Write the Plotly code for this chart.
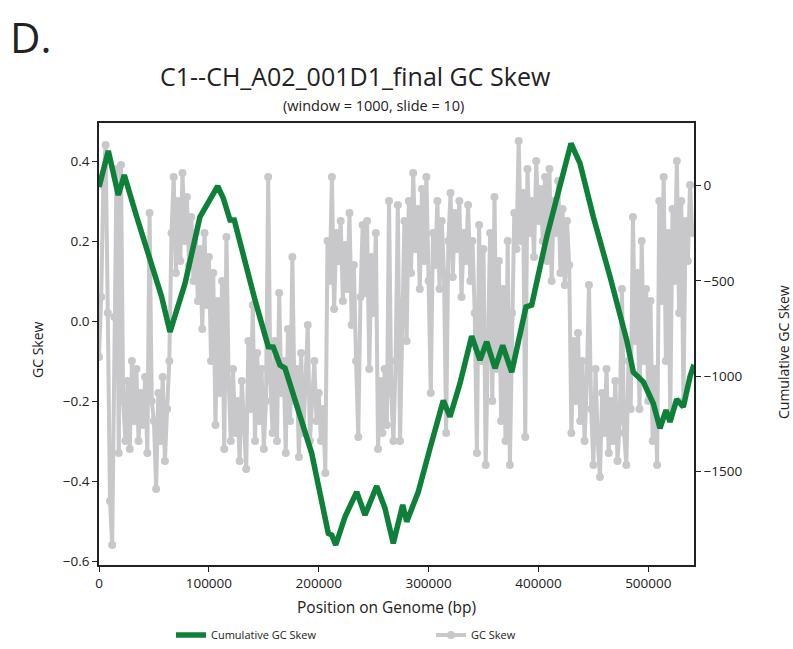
import plotly.graph_objects as go

# ---- data ----
genome_length = 541600
gc_step = 2000
gc_skew = [
    -0.09, 0.06, 0.35, 0.44, 0.02, -0.45, -0.56, 0.01, 0.38, -0.33,
    0.39, -0.20, -0.30, -0.15, -0.32, -0.10, -0.25, -0.12, -0.30, -0.18,
    -0.26, -0.14, -0.33, 0.27, -0.20, -0.25, -0.42, -0.18, -0.30, -0.14,
    -0.35, -0.22, -0.10, 0.22, 0.36, 0.12, 0.30, 0.15, 0.37, 0.20,
    0.31, 0.14, 0.26, 0.10, 0.22, 0.05, 0.18, -0.02, 0.22, 0.04,
    0.16, -0.10, 0.12, -0.26, 0.05, -0.18, 0.10, -0.32, 0.21, -0.15,
    -0.30, -0.12, -0.28, -0.20, -0.35, -0.15, -0.25, -0.37, -0.05, -0.22,
    0.04, -0.30, -0.08, -0.25, -0.12, -0.32, -0.20, 0.36, -0.15, -0.28,
    -0.05, -0.30, 0.07, -0.18, -0.10, -0.33, -0.02, -0.25, 0.16, -0.20,
    -0.12, -0.34, -0.08, -0.28, -0.15, -0.01, -0.30, -0.20, -0.10, -0.25,
    -0.18, -0.30, -0.22, -0.38, 0.20, 0.10, 0.36, 0.03, 0.22, 0.15,
    0.25, 0.05, 0.19, 0.08, 0.27, -0.01, 0.14, -0.10, -0.29, 0.06,
    0.24, 0.07, 0.25, -0.12, 0.16, 0.02, 0.22, -0.32, -0.15, -0.28,
    -0.12, -0.26, 0.30, -0.18, -0.30, -0.10, 0.29, -0.30, 0.05, 0.25,
    -0.05, 0.30, 0.12, 0.37, 0.18, 0.28, 0.08, 0.33, 0.15, 0.36,
    0.10, -0.18, 0.22, 0.14, 0.30, 0.08, 0.25, 0.12, -0.28, 0.20,
    0.32, 0.11, 0.27, 0.18, 0.30, 0.06, 0.22, 0.15, 0.29, 0.10,
    0.20, 0.02, -0.33, 0.24, -0.10, 0.18, -0.36, -0.05, 0.22, -0.20,
    0.31, -0.12, 0.15, -0.25, 0.08, -0.30, 0.20, -0.36, 0.02, 0.27,
    0.18, 0.45, 0.20, 0.32, -0.29, 0.38, 0.22, 0.30, 0.16, 0.40,
    0.25, 0.33, 0.20, 0.36, 0.15, 0.38, 0.10, 0.30, 0.22, 0.35,
    0.12, 0.28, 0.09, 0.25, 0.14, -0.28, -0.05, -0.20, -0.03, -0.25,
    -0.10, -0.30, -0.15, 0.09, -0.22, -0.36, -0.12, -0.30, -0.39, -0.18,
    -0.28, -0.12, -0.33, -0.20, -0.30, -0.15, -0.35, -0.25, 0.08, -0.28,
    -0.36, -0.10, -0.22, 0.26, -0.05, 0.12, -0.22, 0.20, -0.10, 0.08,
    -0.20, 0.05, -0.30, -0.12, -0.36, 0.30, 0.05, 0.36, -0.10, 0.22,
    -0.24, 0.28, 0.10, 0.40, 0.02, 0.30, -0.20, 0.25, 0.15, 0.34,
    0.22,
]
gc_pos = [i * gc_step for i in range(len(gc_skew))]

cum_pos = [
    0, 8470, 17570, 23030, 34320, 47970, 57070, 64630, 78280, 91930,
    99490, 108040, 113140, 119240, 123150, 135900, 141990, 154100, 158650, 164760,
    169310, 178410, 193610, 208720, 211820, 215460, 223920, 234570, 242120, 252780,
    260330, 267890, 276440, 280090, 290640, 301290, 313400, 319500, 328600, 339250,
    346800, 352900, 360460, 367470, 375660, 388680, 393860, 407520, 429640, 437830,
    449940, 465140, 480340, 486350, 495450, 504550, 510650, 516110, 519750, 525850,
    531860, 537950, 541600,
]
cum_skew = [
    -8, 182, -50, 55, -164, -409, -585, -768, -514, -164,
    -85, -3, -67, -181, -181, -478, -601, -846, -848, -942,
    -958, -1125, -1405, -1825, -1834, -1886, -1738, -1607, -1729, -1577,
    -1694, -1877, -1676, -1764, -1607, -1379, -1128, -1213, -1038, -790,
    -916, -820, -959, -839, -979, -637, -627, -269, 221, 116,
    -164, -478, -811, -979, -1030, -1144, -1274, -1178, -1240, -1122,
    -1162, -1003, -940,
]

x_ticks = [0, 100000, 200000, 300000, 400000, 500000]
y_ticks = [0.4, 0.2, 0.0, -0.2, -0.4, -0.6]
y2_ticks = [0, -500, -1000, -1500]

FONT = "Open Sans"
TXT = "#222"
GRAY = "rgb(200,200,202)"
GREEN = "rgb(14,128,58)"

W, H = 793, 649
L, R, T, B = 99, 99, 123, 84
PW, PH = W - L - R, H - T - B


def px_x(px):
    return (px - L) / PW


def px_y(py):
    return (H - B - py) / PH


fig = go.Figure()
fig.add_trace(go.Scatter(
    x=gc_pos, y=gc_skew, name="GC Skew", mode="lines+markers",
    line=dict(color=GRAY, width=4), marker=dict(color=GRAY, size=8),
    yaxis="y", legendrank=2,
))
fig.add_trace(go.Scatter(
    x=cum_pos, y=cum_skew, name="Cumulative GC Skew", mode="lines",
    line=dict(color=GREEN, width=5.5), yaxis="y2", legendrank=1,
))

axis_common = dict(
    showgrid=False, zeroline=False, showline=True, linecolor=TXT,
    linewidth=1.6, ticks="outside", ticklen=5, tickwidth=1.3, tickcolor=TXT,
    tickfont=dict(family=FONT, size=13.5, color=TXT), automargin=False,
)

fig.update_layout(
    width=W, height=H,
    margin=dict(l=L, r=R, t=T, b=B, autoexpand=False),
    paper_bgcolor="white", plot_bgcolor="white",
    font=dict(family=FONT, color=TXT),
    title=dict(text="D.", x=10 / W, xanchor="left", y=1 - 38 / H, yanchor="middle",
               xref="container", yref="container",
               font=dict(family=FONT, size=42, color=TXT)),
    xaxis=dict(range=[0, genome_length], tickvals=x_ticks, tickformat="d",
               mirror=True, **axis_common),
    yaxis=dict(range=[-0.61, 0.495], tickvals=y_ticks, tickformat=".1f",
               mirror=True, **axis_common),
    yaxis2=dict(range=[-1991, 328], tickvals=y2_ticks, tickformat="d",
                overlaying="y", side="right", **axis_common),
    showlegend=True,
    legend=dict(orientation="h", x=px_x(171), y=px_y(635), xanchor="left", yanchor="middle",
                font=dict(family=FONT, size=11, color=TXT),
                entrywidth=215, entrywidthmode="pixels", bgcolor="rgba(0,0,0,0)"),
)

texts = [
    ("C1--CH_A02_001D1_final GC Skew", 355, 76, 25, 0),
    ("(window = 1000, slide = 10)", 373, 106, 14.5, 0),
    ("Position on Genome (bp)", 386, 607, 15.5, 0),
    ("GC Skew", 37, 350, 14, -90),
    ("Cumulative GC Skew", 783, 352, 14, -90),
]
anns = []
for text, x, y, size, ang in texts:
    anns.append(dict(
        text=text, x=px_x(x), y=px_y(y), xref="paper", yref="paper",
        showarrow=False, textangle=ang, xanchor="center", yanchor="middle",
        font=dict(family=FONT, size=size, color=TXT),
    ))
fig.update_layout(annotations=anns)

fig.write_html("out.html", config={"displayModeBar": False})
